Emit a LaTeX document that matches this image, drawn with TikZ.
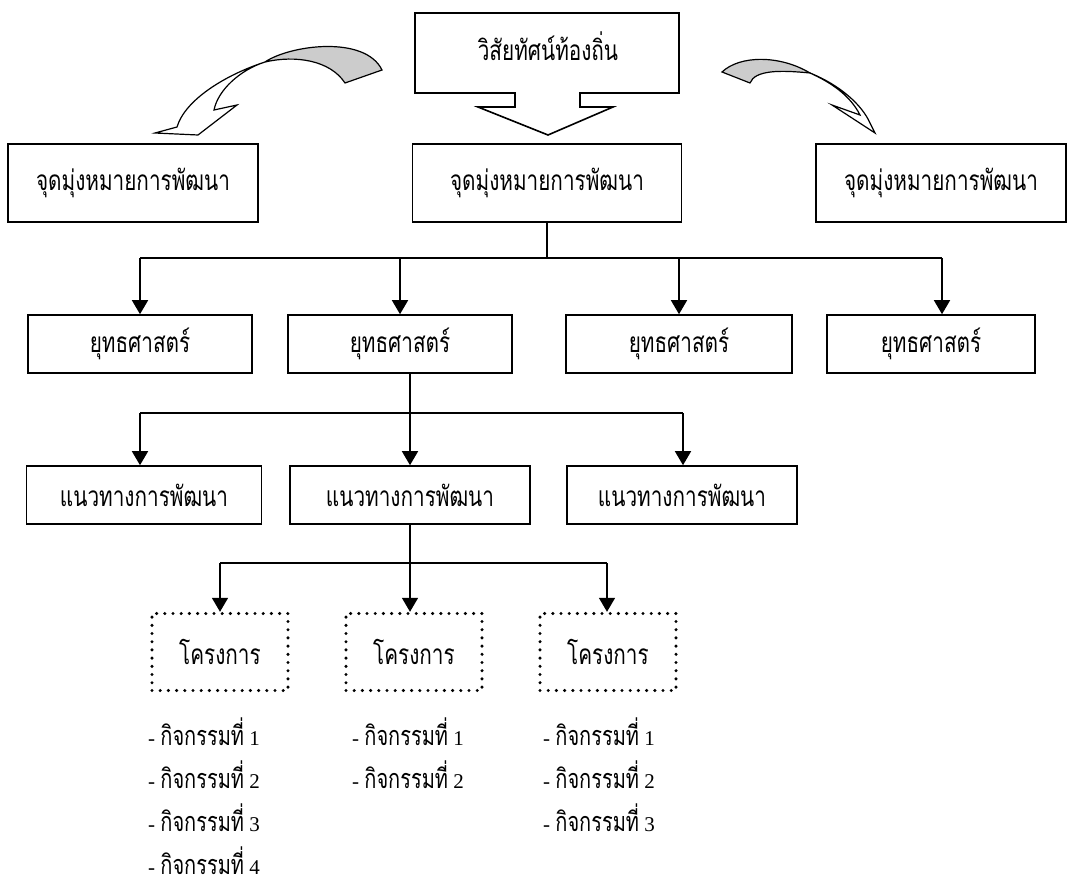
\documentclass[tikz,border=0pt]{standalone}
\usepackage{fontspec}
\setmainfont{Liberation Serif}
\newfontfamily\thai[Script=Thai,FakeStretch=0.74]{Loma}
\usetikzlibrary{arrows.meta}
\begin{document}
\begin{tikzpicture}[x=1pt,y=-1pt,
  box/.style={draw,line width=1.6pt,inner sep=0pt,minimum height=58pt,font=\thai\fontsize{28}{32}\selectfont},
  goalbox/.style={box,minimum height=78pt},
  projbox/.style={draw,line width=3.4pt,dash pattern=on 0pt off 8.2pt,line cap=round,inner sep=0pt,
    minimum width=136pt,minimum height=77pt,font=\thai\fontsize{28}{32}\selectfont},
  act/.style={anchor=west,inner sep=0pt,font=\fontsize{21}{25}\selectfont},
  link/.style={line width=1.6pt,-{Triangle[length=14pt,width=16pt]}},
  bus/.style={line width=1.6pt}]
\useasboundingbox (0,0) rectangle (1076,896);

% vision callout
\draw[line width=1.6pt] (415,13) -- (679,13) -- (679,93) -- (580,93) -- (580,107) -- (613,107)
  -- (548,135) -- (478,107) -- (515,107) -- (515,93) -- (415,93) -- cycle;
\node[font=\thai\fontsize{28}{32}\selectfont] (vision) at (548,46) {วิสัยทัศน์ท้องถิ่น};

% twisted arrows
\fill[gray!40] (265,62) .. controls (290,45) and (365,35) .. (382,70) -- (345,83)
  .. controls (330,60) and (295,55) .. (265,62) -- cycle;
\draw[line width=1.2pt] (265,62) .. controls (290,45) and (365,35) .. (382,70) -- (345,83)
  .. controls (330,60) and (295,55) .. (265,62);
\draw[line width=1.2pt,fill=white] (265,62) .. controls (225,75) and (185,100) .. (177,127)
  -- (155,133) -- (198,135) -- (237,105) -- (214,110) .. controls (218,90) and (240,70) .. (265,62) -- cycle;

\fill[gray!40] (722,72) .. controls (740,55) and (780,55) .. (810,73)
  .. controls (780,70) and (755,70) .. (750,83) -- cycle;
\draw[line width=1.2pt] (722,72) .. controls (740,55) and (780,55) .. (810,73)
  .. controls (780,70) and (755,70) .. (750,83) -- cycle;
\draw[line width=1.2pt,fill=white] (810,73) .. controls (840,85) and (862,105) .. (870,123)
  -- (875,133) -- (832,105) -- (860,115) .. controls (850,95) and (830,82) .. (810,73) -- cycle;

% goals
\node[goalbox,minimum width=250pt] (goal1) at (133,183) {จุดมุ่งหมายการพัฒนา};
\node[goalbox,minimum width=269pt] (goal2) at (547,183) {จุดมุ่งหมายการพัฒนา};
\node[goalbox,minimum width=250pt] (goal3) at (941,183) {จุดมุ่งหมายการพัฒนา};

% strategies
\node[box,minimum width=224pt] (s1) at (140,344) {ยุทธศาสตร์};
\node[box,minimum width=224pt] (s2) at (400,344) {ยุทธศาสตร์};
\node[box,minimum width=226pt] (s3) at (679,344) {ยุทธศาสตร์};
\node[box,minimum width=208pt] (s4) at (931,344) {ยุทธศาสตร์};
\coordinate (b1) at (140,258);
\coordinate (b2) at (400,258);
\coordinate (b3) at (679,258);
\coordinate (b4) at (942,258);
\draw[bus] (b1) -- (b4);
\draw[bus] (goal2.south) -- (goal2.south |- b1);
\foreach \i in {1,...,4}
{
    \draw[link] (b\i) -- (b\i |- s\i.north);
}

% guidelines
\node[box,minimum width=235pt] (g1) at (144,495) {แนวทางการพัฒนา};
\node[box,minimum width=240pt] (g2) at (410,495) {แนวทางการพัฒนา};
\node[box,minimum width=230pt] (g3) at (682,495) {แนวทางการพัฒนา};
\coordinate (c1) at (140,413);
\coordinate (c2) at (410,413);
\coordinate (c3) at (683,413);
\draw[bus] (c1) -- (c3);
\draw[bus] (s2.south -| c2) -- (c2);
\foreach \i in {1,...,3}
{
    \draw[link] (c\i) -- (c\i |- g\i.north);
}

% projects
\node[projbox] (p1) at (220,652) {โครงการ};
\node[projbox] (p2) at (414,652) {โครงการ};
\node[projbox] (p3) at (608,652) {โครงการ};
\coordinate (d1) at (220,563);
\coordinate (d2) at (410,563);
\coordinate (d3) at (607,563);
\draw[bus] (d1) -- (d3);
\draw[bus] (g2.south -| d2) -- (d2);
\foreach \i in {1,...,3}
{
    \draw[link] (d\i) -- (d\i |- p\i.north);
}

% activities
\foreach \n in {1,...,4}
{
    \node[act] (a1\n) at (148,689+43*\n) {- {\thai\fontsize{27}{30}\selectfont กิจกรรมที่} \n};
}
\foreach \n in {1,2}
{
    \node[act] (a2\n) at (352,689+43*\n) {- {\thai\fontsize{27}{30}\selectfont กิจกรรมที่} \n};
}
\foreach \n in {1,2,3}
{
    \node[act] (a3\n) at (543,689+43*\n) {- {\thai\fontsize{27}{30}\selectfont กิจกรรมที่} \n};
}

\end{tikzpicture}
\end{document}
